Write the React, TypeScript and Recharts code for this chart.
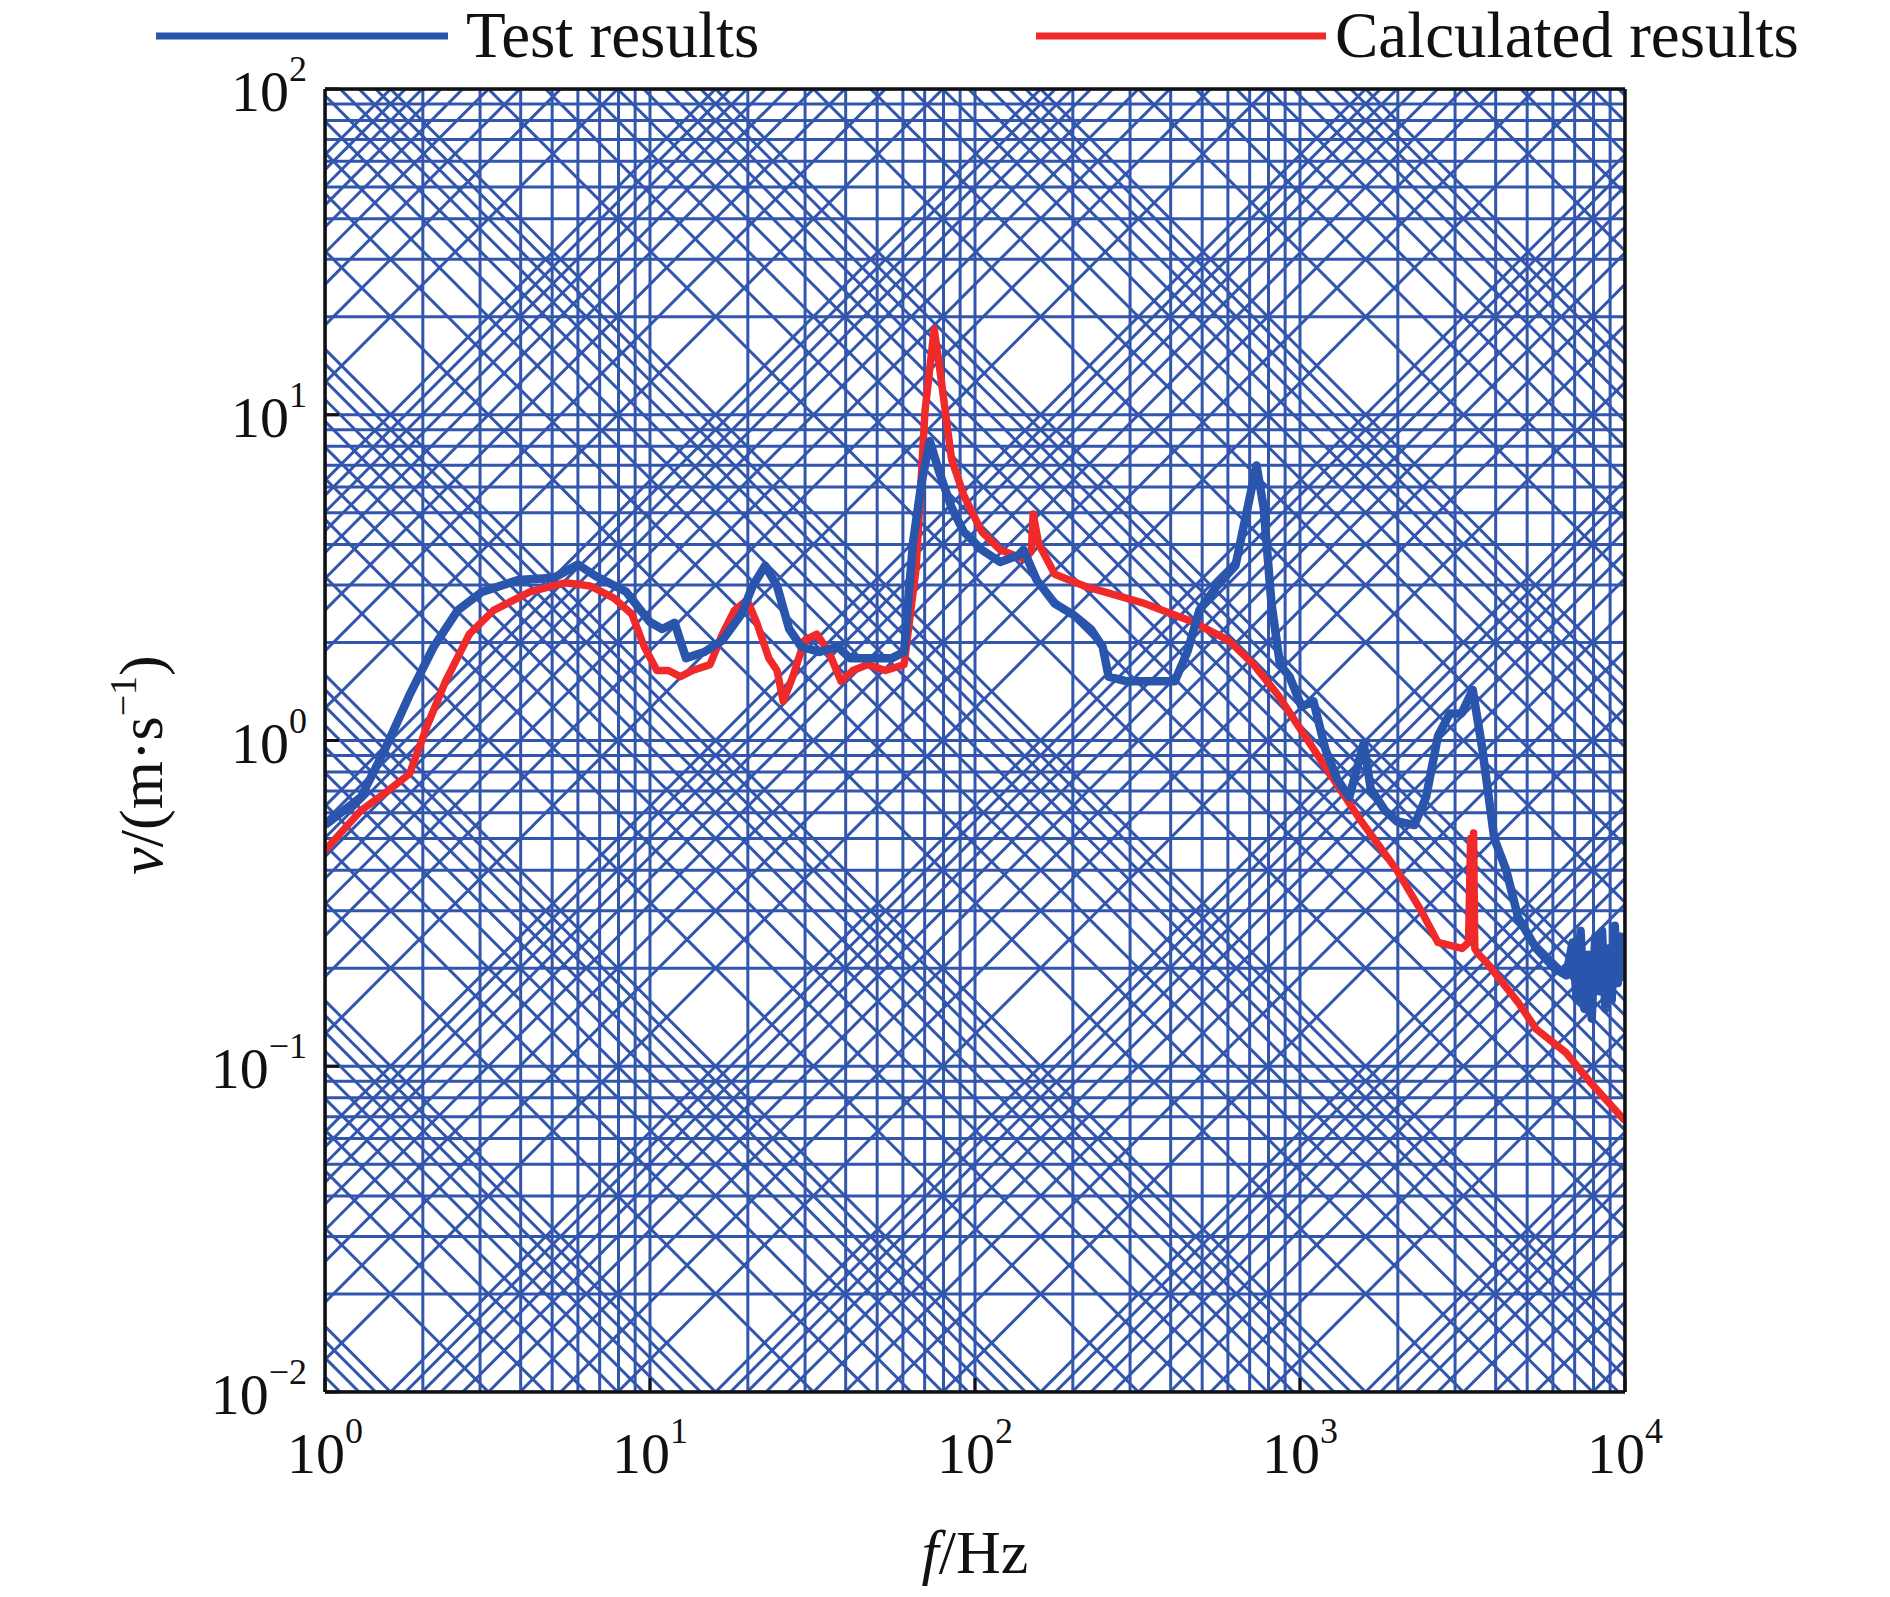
import React from 'react';
import { LineChart, Line, XAxis, YAxis, ReferenceLine } from 'recharts';

const SERIF = "'Liberation Serif', 'Times New Roman', serif";

// Test results (blue)
const testFreq = [
  1, 1.29, 1.53, 1.82, 2.16, 2.56, 3.04, 3.93, 5.07, 6.0, 6.8, 8.45, 10, 10.9, 11.9, 12.9, 14.7, 16.7,
  19.1, 20.7, 22.6, 24.6, 26.8, 29.2, 33.2, 37.8, 41.2, 46.8, 55.5, 60.5, 64.4, 68.4, 72.6, 77.5, 84.7,
  92.4, 104.9, 119.5, 135.8, 141, 154.8, 176, 199.8, 227, 247, 257.8, 293, 364, 412, 450, 490, 555, 633,
  690, 735, 773, 817, 868, 929, 1011, 1100, 1197, 1303, 1418, 1570, 1651, 1825, 1985, 2249, 2443, 2657,
  2890, 3140, 3400, 3640, 3960, 4310, 4690, 5330, 6060, 6590, 6900, 7100, 7300, 7500, 7700, 7900, 8100,
  8300, 8500, 8700, 8900, 9100, 9300, 9500, 9700, 9900, 10000,
];
const testVel = [
  0.55, 0.67, 0.94, 1.38, 1.94, 2.51, 2.86, 3.11, 3.16, 3.47, 3.2, 2.86, 2.31, 2.2, 2.3, 1.79, 1.87, 2.03,
  2.44, 2.98, 3.44, 2.98, 2.2, 1.94, 1.87, 1.94, 1.79, 1.79, 1.79, 1.87, 4.02, 6.15, 8.3, 6.7, 5.19,
  4.37, 3.85, 3.53, 3.7, 3.85, 3.11, 2.63, 2.44, 2.2, 1.94, 1.57, 1.52, 1.52, 1.52, 1.87, 2.51, 2.98, 3.44,
  5.19, 6.99, 5.19, 2.63, 1.71, 1.57, 1.27, 1.32, 0.94, 0.76, 0.67, 0.98, 0.71, 0.61, 0.565, 0.55, 0.67, 1.03,
  1.21, 1.21, 1.43, 0.94, 0.5, 0.4, 0.286, 0.23, 0.2, 0.19, 0.24, 0.16, 0.26, 0.15, 0.22, 0.14, 0.25,
  0.17, 0.26, 0.15, 0.23, 0.16, 0.27, 0.18, 0.25, 0.19, 0.22,
];

// Calculated results (red)
const calcFreq = [
  1, 1.29, 1.53, 1.82, 2.07, 2.35, 2.78, 3.3, 4.27, 5.5, 6.55, 7.77, 8.8, 9.6, 10.5, 11.4, 12.4, 13.5,
  15.3, 16.7, 18.2, 19.9, 21.3, 23.2, 24.6, 25.7, 27.5, 29.9, 32.6, 35.5, 38.7, 42.1, 46.8, 53, 60.5,
  65.9, 70.2, 74.9, 77.5, 84.7, 92.4, 105, 119.5, 142, 149, 151, 157, 176, 217, 334, 469, 603, 720, 855,
  1011, 1197, 1543, 1985, 2360, 2657, 3150, 3300, 3350, 3380, 3420, 3450, 3550, 3720, 4690, 5330, 6590,
  7770, 10000,
];
const calcVel = [
  0.46, 0.61, 0.69, 0.79, 1.12, 1.52, 2.12, 2.51, 2.86, 3.05, 2.98, 2.73, 2.44, 1.94, 1.64, 1.64, 1.57, 1.64,
  1.71, 2.12, 2.51, 2.7, 2.3, 1.79, 1.64, 1.32, 1.57, 2.03, 2.12, 1.87, 1.52, 1.64, 1.71, 1.64, 1.71,
  3.39, 10.3, 18.3, 14.4, 7.3, 5.65, 4.37, 3.85, 3.6, 3.8, 4.96, 4.02, 3.24, 2.98, 2.63, 2.31, 2.03, 1.71, 1.38,
  1.07, 0.83, 0.565, 0.4, 0.3, 0.24, 0.23, 0.24, 0.5, 0.25, 0.52, 0.23, 0.22, 0.21, 0.157, 0.13, 0.11,
  0.09, 0.068,
];

const xTicks = [1, 10, 100, 1000, 10000];
const yTicks = [0.01, 0.1, 1, 10, 100];
const mantissas = [1, 2, 3, 4, 5, 6, 7, 8, 9];
const xDecades = [0, 1, 2, 3];
const yDecades = [-2, -1, 0, 1];
const accelDecades = [-2, -1, 0, 1, 2, 3, 4, 5, 6];
const dispDecades = [-7, -6, -5, -4, -3, -2, -1, 0, 1];

const testData = testFreq.map((f, i) => ({ f, v: testVel[i] }));
const calcData = calcFreq.map((f, i) => ({ f, v: calcVel[i] }));

const TWO_PI = 2 * Math.PI;
const GRID = '#3256ad';
const GRID_W = 3;

const vGrid = [...xDecades.flatMap((k) => mantissas.map((m) => m * 10 ** k)), 10000];
const hGrid = [...yDecades.flatMap((k) => mantissas.map((m) => m * 10 ** k)), 100];
// tripartite diagonals: constant acceleration (v = a / 2πf) and constant displacement (v = 2πf d)
const accelLines = accelDecades
  .flatMap((k) => mantissas.map((m) => m * 10 ** k))
  .filter((a) => a / TWO_PI >= 0.01 && a / (TWO_PI * 1e4) <= 100);
const dispLines = dispDecades
  .flatMap((k) => mantissas.map((m) => m * 10 ** k))
  .filter((d) => TWO_PI * d <= 100 && TWO_PI * 1e4 * d >= 0.01);

const sup = (e: number) => (e < 0 ? `\u2212${-e}` : `${e}`);

function XTick({ x, y, payload }: any) {
  const e = Math.round(Math.log10(payload.value));
  return (
    <g>
      <line x1={x} x2={x} y1={y} y2={y - 14} stroke="#111" strokeWidth={3} />
      <text x={x} y={y + 81} textAnchor="middle" fontFamily={SERIF} fontSize={58} fill="#111">
        10<tspan dy={-30} fontSize={36}>{sup(e)}</tspan>
      </text>
    </g>
  );
}

function YTick({ x, y, payload }: any) {
  const e = Math.round(Math.log10(payload.value));
  return (
    <g>
      <line x1={x} x2={x + 14} y1={y} y2={y} stroke="#111" strokeWidth={3} />
      <text x={x - 18} y={y + 22} textAnchor="end" fontFamily={SERIF} fontSize={58} fill="#111">
        10<tspan dy={-30} fontSize={36}>{sup(e)}</tspan>
      </text>
    </g>
  );
}

export default function App() {
  return (
    <div style={{ position: 'relative', width: 1890, height: 1597, background: '#fff' }}>
      <style>{'body{margin:0}'}</style>
      <LineChart width={1890} height={1597} margin={{ top: 89, right: 265, bottom: 0, left: 0 }}>
        <XAxis
          type="number"
          dataKey="f"
          scale="log"
          domain={[1, 10000]}
          allowDataOverflow
          ticks={xTicks}
          tick={<XTick />}
          tickSize={0}
          tickMargin={0}
          height={205}
          axisLine={{ stroke: '#111', strokeWidth: 3.5 }}
          tickLine={false}
        />
        <YAxis
          type="number"
          dataKey="v"
          scale="log"
          domain={[0.01, 100]}
          allowDataOverflow
          ticks={yTicks}
          tick={<YTick />}
          tickSize={0}
          tickMargin={0}
          width={325}
          axisLine={{ stroke: '#111', strokeWidth: 3.5 }}
          tickLine={false}
        />
        {vGrid.map((f) => (
          <ReferenceLine key={`vx${f}`} x={f} stroke={GRID} strokeWidth={GRID_W} ifOverflow="hidden" />
        ))}
        {hGrid.map((v) => (
          <ReferenceLine key={`hy${v}`} y={v} stroke={GRID} strokeWidth={GRID_W} ifOverflow="hidden" />
        ))}
        {accelLines.map((a) => (
          <ReferenceLine
            key={`a${a}`}
            segment={[
              { x: 1, y: a / TWO_PI },
              { x: 10000, y: a / (TWO_PI * 10000) },
            ]}
            stroke={GRID}
            strokeWidth={GRID_W}
            ifOverflow="hidden"
          />
        ))}
        {dispLines.map((d) => (
          <ReferenceLine
            key={`d${d}`}
            segment={[
              { x: 1, y: TWO_PI * d },
              { x: 10000, y: TWO_PI * 10000 * d },
            ]}
            stroke={GRID}
            strokeWidth={GRID_W}
            ifOverflow="hidden"
          />
        ))}
        <Line
          data={calcData}
          dataKey="v"
          stroke="#f02a2a"
          strokeWidth={7.5}
          dot={false}
          isAnimationActive={false}
          strokeLinejoin="round"
        />
        <Line
          data={testData}
          dataKey="v"
          stroke="#2a55ac"
          strokeWidth={8.5}
          dot={false}
          isAnimationActive={false}
          strokeLinejoin="round"
        />
        <ReferenceLine x={10000} stroke="#111" strokeWidth={3.5} />
        <ReferenceLine y={100} stroke="#111" strokeWidth={3.5} />
      </LineChart>
      <svg
        width={1890}
        height={1597}
        style={{ position: 'absolute', left: 0, top: 0, pointerEvents: 'none' }}
        fontFamily={SERIF}
        fill="#111"
      >
        <line x1={156} x2={448} y1={36} y2={36} stroke="#2a55ac" strokeWidth={7} />
        <text x={466} y={57} fontSize={65}>Test results</text>
        <line x1={1036} x2={1326} y1={36} y2={36} stroke="#f02a2a" strokeWidth={7} />
        <text x={1335} y={57} fontSize={65}>Calculated results</text>
        <text x={975} y={1573} fontSize={62} textAnchor="middle">
          <tspan fontStyle="italic">f</tspan>/Hz
        </text>
        <text transform="translate(162,765) rotate(-90)" fontSize={62} textAnchor="middle">
          <tspan fontStyle="italic">v</tspan>/(m·s<tspan dy={-26} fontSize={38}>−1</tspan>
          <tspan dy={26}>)</tspan>
        </text>
      </svg>
    </div>
  );
}
